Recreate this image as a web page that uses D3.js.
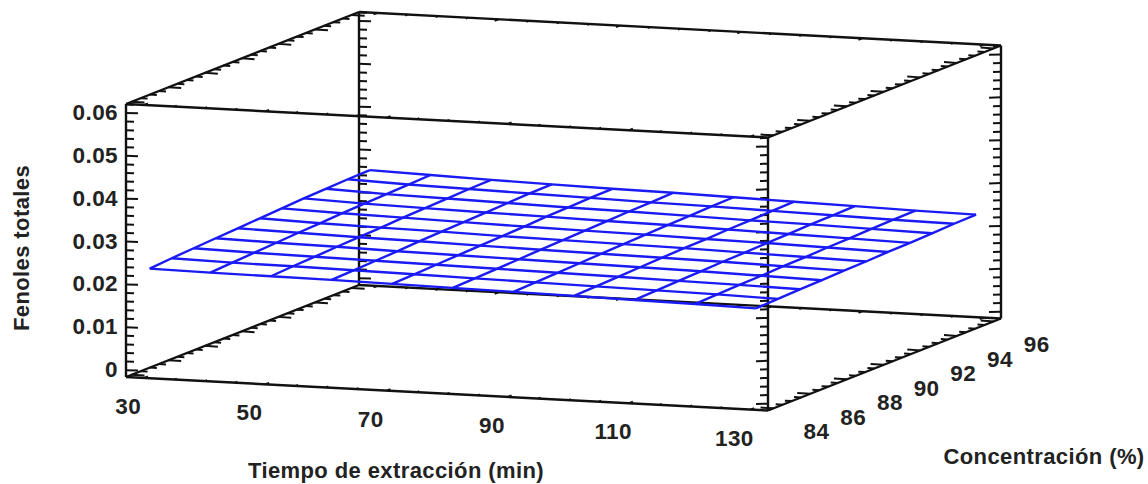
<!DOCTYPE html>
<html>
<head>
<meta charset="utf-8">
<script src="https://cdn.jsdelivr.net/npm/d3@7"></script>
<style>
    html, body { margin: 0; padding: 0; background: #fff; }
    svg { display: block; }
    text { font-family: "Liberation Sans", Arial, sans-serif; font-weight: bold; fill: #222; letter-spacing: 0.4px; }
</style>
</head>
<body>
<div class="Canvas"></div>
<script>
let timeTicks = [30, 50, 70, 90, 110, 130];
let concTicks = [84, 86, 88, 90, 92, 94, 96];
let zTicks = [0, 0.01, 0.02, 0.03, 0.04, 0.05, 0.06];

let timeValues = [30, 40, 50, 60, 70, 80, 90, 100, 110, 120, 130];
let concValues = [84, 85.2, 86.4, 87.6, 88.8, 90, 91.2, 92.4, 93.6, 94.8, 96];

// one row per concentracion, one column per tiempo
let fenoles84 = [0.0234, 0.0232, 0.0231, 0.0230, 0.0228, 0.0226, 0.0224, 0.0222, 0.0220, 0.0218, 0.0215];
let fenoles85 = [0.0238, 0.0235, 0.0234, 0.0232, 0.0230, 0.0228, 0.0226, 0.0224, 0.0222, 0.0220, 0.0217];
let fenoles86 = [0.0241, 0.0238, 0.0236, 0.0234, 0.0232, 0.0230, 0.0228, 0.0226, 0.0224, 0.0222, 0.0219];
let fenoles87 = [0.0244, 0.0241, 0.0239, 0.0236, 0.0234, 0.0232, 0.0230, 0.0228, 0.0226, 0.0223, 0.0220];
let fenoles88 = [0.0247, 0.0244, 0.0241, 0.0239, 0.0236, 0.0234, 0.0232, 0.0230, 0.0228, 0.0225, 0.0222];
let fenoles90 = [0.0250, 0.0246, 0.0243, 0.0241, 0.0238, 0.0236, 0.0234, 0.0232, 0.0229, 0.0226, 0.0223];
let fenoles91 = [0.0253, 0.0249, 0.0246, 0.0243, 0.0240, 0.0238, 0.0236, 0.0233, 0.0231, 0.0228, 0.0225];
let fenoles92 = [0.0256, 0.0251, 0.0248, 0.0245, 0.0243, 0.0240, 0.0238, 0.0235, 0.0232, 0.0229, 0.0226];
let fenoles93 = [0.0258, 0.0253, 0.0250, 0.0247, 0.0244, 0.0242, 0.0239, 0.0236, 0.0234, 0.0231, 0.0228];
let fenoles94 = [0.0260, 0.0255, 0.0252, 0.0249, 0.0246, 0.0243, 0.0241, 0.0238, 0.0235, 0.0232, 0.0230];
let fenoles96 = [0.0261, 0.0257, 0.0253, 0.0250, 0.0247, 0.0245, 0.0242, 0.0239, 0.0236, 0.0233, 0.0231];
let surface = [fenoles84, fenoles85, fenoles86, fenoles87, fenoles88, fenoles90, fenoles91, fenoles92, fenoles93, fenoles94, fenoles96];

let width = 1148;
let height = 484;
let tickStroke = 2;
let blue = '#1a1af5';

// axis ranges of the box, in data units
let timeDomain = [27, 132.9];
let concDomain = [83.7, 96.4];
let zDomain = [-0.0016, 0.0621];

// oblique projection: front left bottom corner plus one pixel vector per axis
let origin = [126, 377];
let timeVec = [642, 33.5];
let concVec = [233, -92];
let zVec = [0, -273];

let timeScale = d3.scaleLinear().domain(timeDomain).range([0, 1]);
let concScale = d3.scaleLinear().domain(concDomain).range([0, 1]);
let zScale = d3.scaleLinear().domain(zDomain).range([0, 1]);

function project(t, c, z) {
    let a = timeScale(t), b = concScale(c), h = zScale(z);
    return [
        origin[0] + a * timeVec[0] + b * concVec[0] + h * zVec[0],
        origin[1] + a * timeVec[1] + b * concVec[1] + h * zVec[1],
    ];
}

let svg = d3.select('.Canvas').append('svg').attr('width', width).attr('height', height);
let line = d3.line();

function segment(p, q, strokeWidth, color) {
    svg.append('path')
        .attr('d', line([p, q]))
        .attr('fill', 'none')
        .attr('stroke', color || '#111')
        .attr('stroke-width', strokeWidth);
}

// tick from point p, len pixels along dir
function tick(p, dir, len) {
    let n = Math.hypot(dir[0], dir[1]);
    segment(p, [p[0] + (dir[0] / n) * len, p[1] + (dir[1] / n) * len], tickStroke);
}

// values between majors
function minors(majors, parts, domain) {
    let step = (majors[1] - majors[0]) / parts;
    let out = [];
    for (let v = majors[0] - step * parts; v <= majors[majors.length - 1] + step * parts; v += step) {
        if (v >= domain[0] && v <= domain[1]) out.push(v);
    }
    return out;
}

let [t0, t1] = timeDomain;
let [c0, c1] = concDomain;
let [z0, z1] = zDomain;

// box edges
let edges = [
    [[t0, c0, z0], [t1, c0, z0]],
    [[t0, c1, z0], [t1, c1, z0]],
    [[t0, c0, z1], [t1, c0, z1]],
    [[t0, c1, z1], [t1, c1, z1]],
    [[t0, c0, z0], [t0, c1, z0]],
    [[t1, c0, z0], [t1, c1, z0]],
    [[t0, c0, z1], [t0, c1, z1]],
    [[t1, c0, z1], [t1, c1, z1]],
    [[t0, c0, z0], [t0, c0, z1]],
    [[t1, c0, z0], [t1, c0, z1]],
    [[t0, c1, z0], [t0, c1, z1]],
    [[t1, c1, z0], [t1, c1, z1]],
];
edges.forEach((e) => segment(project(...e[0]), project(...e[1]), 2.4));

// ticks on the vertical edges
[[t0, c0, 1], [t0, c1, 1], [t1, c0, -1], [t1, c1, -1]].forEach(([t, c, side]) => {
    minors(zTicks, 5, zDomain).forEach((z) => {
        let major = zTicks.some((m) => Math.abs(m - z) < 1e-6);
        tick(project(t, c, z), [side, 0.03], major ? 12 : 8);
    });
});

// ticks on the concentracion edges
[[t0, z0, 1], [t0, z1, 1], [t1, z0, -1], [t1, z1, -1]].forEach(([t, z, side]) => {
    minors(concTicks, 4, concDomain).forEach((c) => {
        let major = concTicks.some((m) => Math.abs(m - c) < 1e-6);
        tick(project(t, c, z), [side, side * 0.06], major ? 13 : 7);
    });
});

// short ticks on the tiempo edges
[[c0, z0, 1], [c0, z1, 1], [c1, z0, -1], [c1, z1, -1]].forEach(([c, z, side]) => {
    minors(timeTicks, 4, timeDomain).forEach((t) => {
        let major = timeTicks.some((m) => Math.abs(m - t) < 1e-6);
        tick(project(t, c, z), [side * concVec[0], side * concVec[1]], major ? 4 : 2.5);
    });
});

// surface grid
concValues.forEach((c, j) => {
    svg.append('path')
        .attr('d', line(timeValues.map((t, i) => project(t, c, surface[j][i]))))
        .attr('fill', 'none')
        .attr('stroke', blue)
        .attr('stroke-width', 2.4);
});
timeValues.forEach((t, i) => {
    svg.append('path')
        .attr('d', line(concValues.map((c, j) => project(t, c, surface[j][i]))))
        .attr('fill', 'none')
        .attr('stroke', blue)
        .attr('stroke-width', 2.4);
});

// tick labels
let labelSize = 22.5;
zTicks.forEach((z) => {
    let p = project(t0, c0, z);
    svg.append('text')
        .attr('x', p[0] - 8)
        .attr('y', p[1] + 7)
        .attr('text-anchor', 'end')
        .attr('font-size', labelSize)
        .text(z === 0 ? '0' : z.toFixed(2));
});
timeTicks.forEach((t) => {
    let p = project(t, c0, z0);
    svg.append('text')
        .attr('x', p[0] - 16)
        .attr('y', p[1] + 36)
        .attr('text-anchor', 'middle')
        .attr('font-size', labelSize)
        .text(t);
});
concTicks.forEach((c) => {
    let p = project(t1, c, z0);
    svg.append('text')
        .attr('x', p[0] + 43)
        .attr('y', p[1] + 31)
        .attr('text-anchor', 'middle')
        .attr('font-size', labelSize)
        .text(c);
});

// axis titles
svg.append('text')
    .attr('transform', 'translate(29,248) rotate(-90)')
    .attr('text-anchor', 'middle')
    .attr('font-size', 22)
    .text('Fenoles totales');
svg.append('text')
    .attr('x', 396)
    .attr('y', 478)
    .attr('text-anchor', 'middle')
    .attr('font-size', 22)
    .text('Tiempo de extracción (min)');
svg.append('text')
    .attr('x', 1044)
    .attr('y', 464)
    .attr('text-anchor', 'middle')
    .attr('font-size', 22)
    .text('Concentración (%)');
</script>
</body>
</html>
